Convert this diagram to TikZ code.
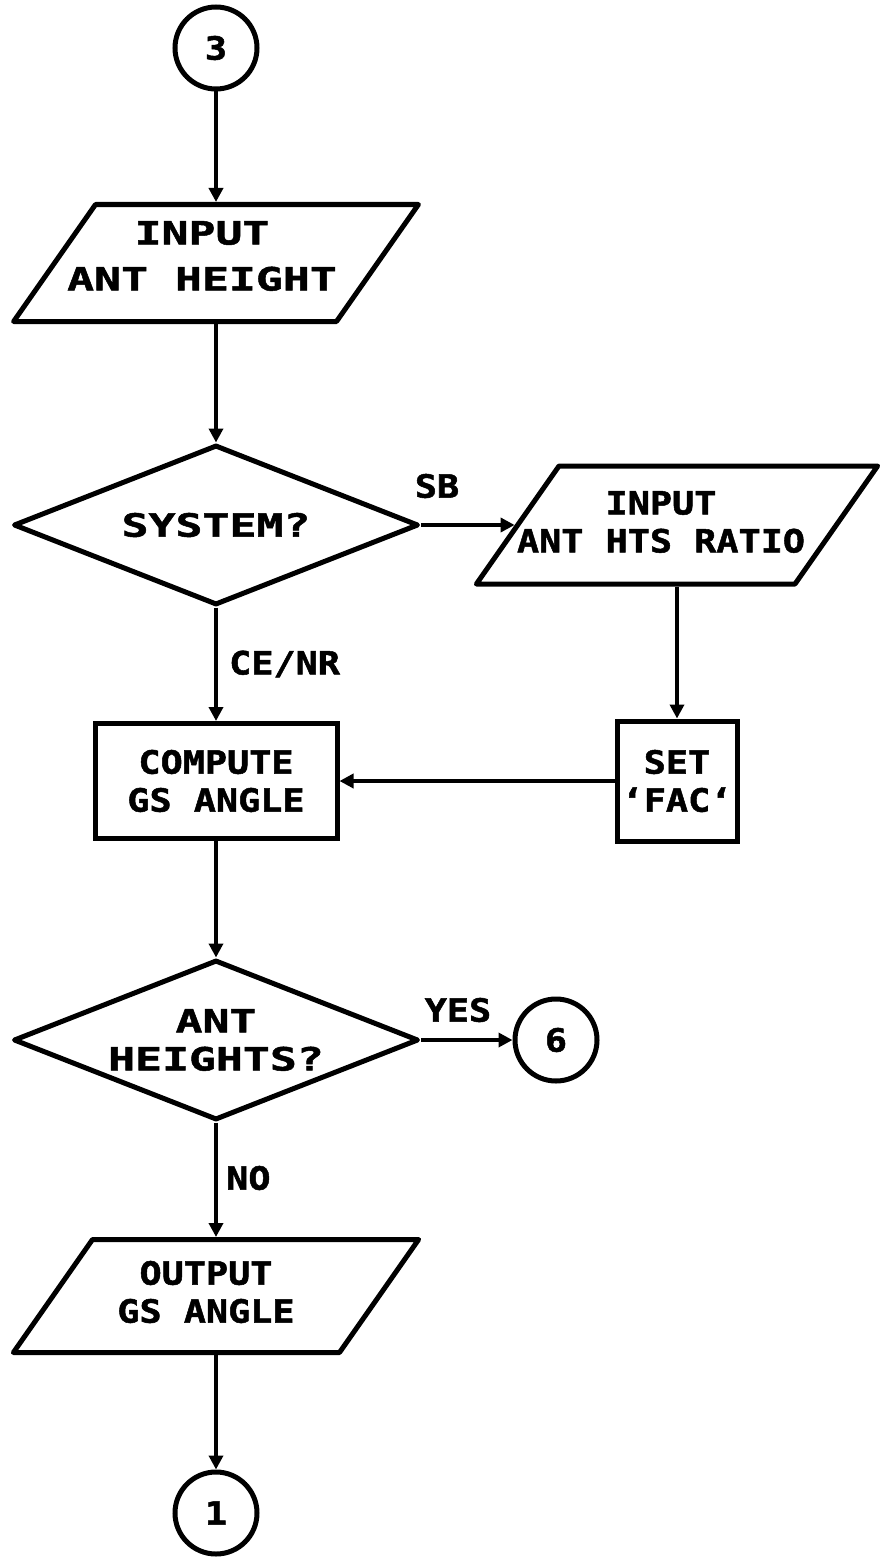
\documentclass[tikz,border=0pt]{standalone}
\usepackage{fontspec}
\newfontfamily\plotfont[FakeStretch=1.15, BoldFeatures={FakeBold=1.6}]{DejaVu Sans Mono}
\newfontfamily\plotwide[FakeStretch=1.4, BoldFeatures={FakeBold=1.6}]{DejaVu Sans Mono}
\usetikzlibrary{
  arrows.meta,
  positioning,
  shapes.geometric
}

\begin{document}
\begin{tikzpicture}[
      x=1pt, y=-1pt,
      every node/.style={font=\plotfont\bfseries\fontsize{32}{38}\selectfont},
      wide/.style={font=\plotwide\bfseries\fontsize{32}{38}\selectfont},
      txt/.style={label={[align=center]center:#1}},
      wtxt/.style={label={[align=center, wide]center:#1}},
      conn/.style={draw, circle, line width=5pt, minimum size=82pt, inner sep=0pt},
      inout/.style={draw, trapezium, trapezium left angle=55, trapezium right angle=125, line width=5pt, line join=round, inner xsep=120.5pt, inner ysep=58.5pt},
      decide/.style={draw, diamond, line width=5pt, line join=round, minimum width=405pt, minimum height=160pt, inner sep=0pt},
      proc/.style={draw, rectangle, line width=5pt, inner sep=0pt},
      flow/.style={-{Triangle[length=14pt,width=14pt]}, line width=4pt},
      tag/.style={inner sep=0pt}
  ]
    \useasboundingbox (0,0) rectangle (880,1557);

    \node [conn] (c3) at (216,48) {3};
    \node [inout, label={[align=center, font=\plotwide\bfseries\fontsize{32}{46}\selectfont, xshift=-14pt, yshift=7pt]center:INPUT\\ANT HEIGHT}] (inant) at (216,263) {};
    \node [decide, wtxt={SYSTEM?}] (sys) at (216,525) {};
    \node [inout, inner xsep=118pt, inner ysep=59pt, label={[align=center, xshift=-16pt, yshift=3pt]center:INPUT\\ANT HTS RATIO}] (inhts) at (677,525) {};
    \node [proc, minimum width=242pt, minimum height=115pt, txt={COMPUTE\\GS ANGLE}] (comp) at (216,781) {};
    \node [proc, minimum width=120pt, minimum height=120pt, txt={SET\\‘FAC‘}] (fac) at (677,781) {};
    \node [decide, wtxt={ANT\\HEIGHTS?}] (hts) at (216,1040) {};
    \node [conn] (c6) at (556,1040) {6};
    \node [inout, inner xsep=123.5pt, inner ysep=56.5pt, label={[align=center, xshift=-10pt, yshift=4pt]center:OUTPUT\\GS ANGLE}] (outgs) at (216,1296) {};
    \node [conn] (c1) at (216,1513) {1};

    % Branch labels
    \node [tag] (lsb) at (437,486) {SB};
    \node [tag, anchor=west] (lce) at (229,664) {CE/NR};
    \node [tag] (lyes) at (458,1010) {YES};
    \node [tag, anchor=west] (lno) at (226,1178) {NO};

    \draw [flow] (c3) -- (inant);
    \draw [flow] (inant) -- (sys);
    \draw [flow] (sys) -- (inhts);
    \draw [flow] (sys) -- (comp);
    \draw [flow] (inhts) -- (fac);
    \draw [flow] (fac) -- (comp);
    \draw [flow] (comp) -- (hts);
    \draw [flow] (hts) -- (c6);
    \draw [flow] (hts) -- (outgs);
    \draw [flow] (outgs) -- (c1);
  \end{tikzpicture}
\end{document}
